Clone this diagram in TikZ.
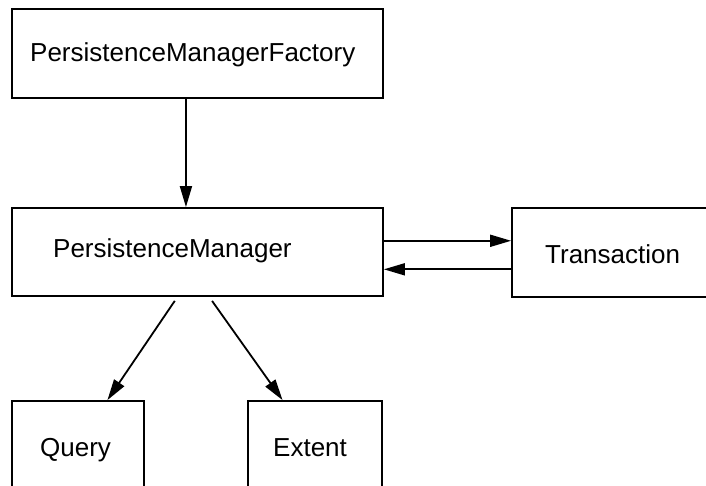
\documentclass[tikz,border=0pt]{standalone}
\usepackage{fontspec}
\setmainfont{Liberation Sans}
\usetikzlibrary{arrows.meta,calc}
\begin{document}
\begin{tikzpicture}[x=1pt,y=-1pt,
  box/.style={draw,line width=1.8pt,rectangle,inner sep=0pt},
  lbl/.style={inner sep=0pt,anchor=base west,font=\fontsize{26}{31}\selectfont},
  arr/.style={line width=1.8pt,-{Triangle[length=21pt,width=12pt]}}]
\useasboundingbox (0,0) rectangle (706,486);
\clip (0,0) rectangle (706,486);
\fill[white] (0,0) rectangle (706,486);
% boxes
\node[box,minimum width=371pt,minimum height=89pt] (fac) at (197.5,53.5) {};
\node[box,minimum width=371pt,minimum height=88pt] (pm) at (197.5,252) {};
\node[box,minimum width=300pt,minimum height=89pt] (tr) at (662,252.5) {};
\node[box,minimum width=132pt,minimum height=130pt] (q) at (78,466) {};
\node[box,minimum width=134pt,minimum height=130pt] (ex) at (315,466) {};
% labels
\node[lbl] (tfac) at (30,62) {PersistenceManagerFactory};
\node[lbl] (tpm) at (53,258) {PersistenceManager};
\node[lbl] (ttr) at (545,263) {Transaction};
\node[lbl] (tq) at (40,456) {Query};
\node[lbl] (tex) at (273,456) {Extent};
% connectors
\coordinate (a1) at ($(fac.south west)!0.469!(fac.south east)$);
\draw[arr] (a1) -- (a1 |- pm.north);
\coordinate (a2) at ($(pm.north east)!0.375!(pm.south east)$);
\draw[arr] (a2) -- (a2 -| tr.west);
\coordinate (a3) at ($(pm.north east)!0.693!(pm.south east)$);
\draw[arr] (a3 -| tr.west) -- (a3);
\coordinate (a4) at ($(pm.south west)!0.439!(pm.south east)$);
\coordinate (a5) at ($(q.north west)!0.72!(q.north east)$);
\draw[arr] ($(a4)+(0,4)$) -- (a5);
\coordinate (a6) at ($(pm.south west)!0.539!(pm.south east)$);
\coordinate (a7) at ($(ex.north west)!0.261!(ex.north east)$);
\draw[arr] ($(a6)+(0,4)$) -- (a7);
\end{tikzpicture}
\end{document}
